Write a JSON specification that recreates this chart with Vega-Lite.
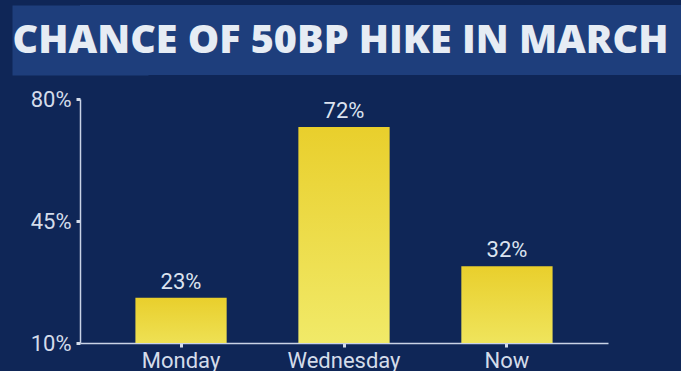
{
  "$schema": "https://vega.github.io/schema/vega-lite/v6.json",
  "autosize": {"type": "pad"},
  "padding": {"left": 12, "top": 5, "right": 0, "bottom": 0},
  "background": "#0f2657",
  "spacing": 13,
  "vconcat": [
    {
      "width": 601,
      "height": 70,
      "view": {"fill": "#1e3e7c", "stroke": null},
      "data": {"values": [{"t": "CHANCE OF 50BP HIKE IN MARCH", "row": "title"}]},
      "mark": {
        "type": "text",
        "font": "Open Sans",
        "fontWeight": 800,
        "fontSize": 39.5,
        "color": "#e6ecf4",
        "baseline": "middle",
        "align": "center",
        "dx": -40,
        "dy": 1
      },
      "encoding": {
        "text": {"field": "t", "type": "nominal"},
        "y": {
          "field": "row",
          "type": "nominal",
          "axis": {
            "title": null,
            "labels": false,
            "ticks": false,
            "domain": true,
            "domainColor": "#1e3e7c",
            "domainWidth": 136,
            "domainCap": "butt",
            "minExtent": 0,
            "maxExtent": 0
          }
        }
      }
    },
    {
      "width": 528,
      "height": 244,
      "view": {"stroke": null},
      "data": {
        "values": [
          {"day": "Monday", "chance": 23},
          {"day": "Wednesday", "chance": 72},
          {"day": "Now", "chance": 32}
        ]
      },
      "transform": [{"calculate": "datum.chance + '%'", "as": "lbl"}],
      "encoding": {
        "x": {
          "field": "day",
          "type": "nominal",
          "sort": null,
          "scale": {"paddingInner": 0.44, "paddingOuter": 0.34},
          "axis": {
            "title": null,
            "labelAngle": 0,
            "labelFont": "Roboto",
            "labelFontSize": 22,
            "labelColor": "#d4dcea",
            "labelPadding": 3,
            "tickSize": 4,
            "tickWidth": 3,
            "tickColor": "#d4dcea",
            "domainColor": "#c9d3e6",
            "domainWidth": 1.5
          }
        },
        "y": {
          "field": "chance",
          "type": "quantitative",
          "scale": {"domain": [10, 80], "nice": false, "zero": false},
          "axis": {
            "title": null,
            "values": [10, 45, 80],
            "labelExpr": "datum.value + '%'",
            "labelFont": "Roboto",
            "labelFontSize": 22,
            "labelColor": "#d4dcea",
            "labelPadding": 5,
            "tickSize": 4,
            "tickWidth": 3,
            "tickColor": "#d4dcea",
            "domainColor": "#c9d3e6",
            "domainWidth": 1.5,
            "grid": false,
            "minExtent": 68,
            "maxExtent": 68
          }
        }
      },
      "layer": [
        {
          "mark": {
            "type": "bar",
            "clip": true,
            "color": {
              "gradient": "linear",
              "x1": 0, "y1": 0, "x2": 0, "y2": 1,
              "stops": [
                {"offset": 0, "color": "#e9cf2c"},
                {"offset": 1, "color": "#f2ee72"}
              ]
            }
          }
        },
        {
          "mark": {
            "type": "text",
            "dy": -16,
            "font": "Roboto",
            "fontSize": 22,
            "color": "#dce3ef"
          },
          "encoding": {
            "text": {"field": "lbl", "type": "nominal"}
          }
        }
      ]
    }
  ]
}
